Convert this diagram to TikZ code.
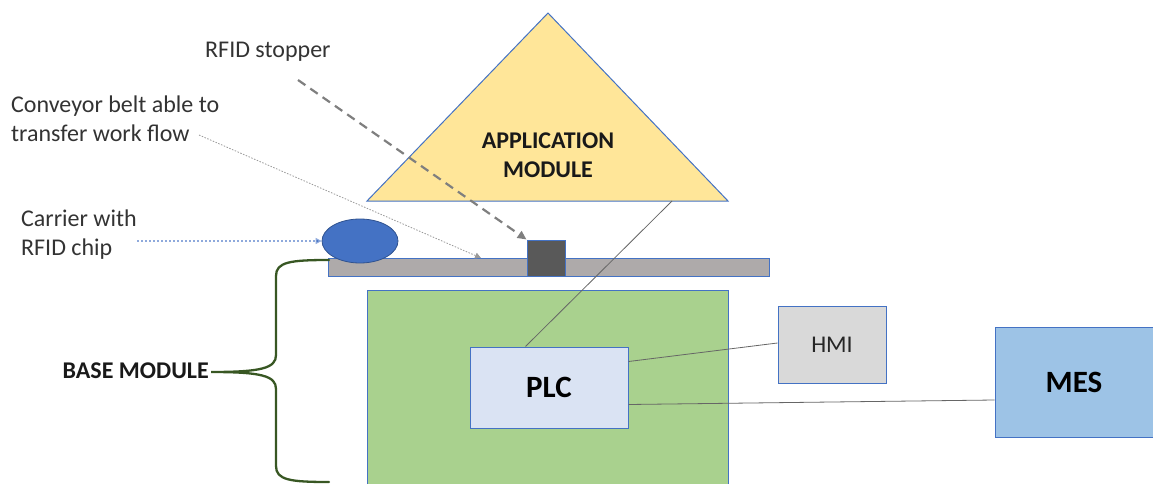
\documentclass[tikz,border=0pt]{standalone}
\usepackage{fontspec}
\setmainfont{Carlito}
\usetikzlibrary{shapes.geometric,arrows.meta}
\definecolor{edgeblue}{HTML}{4472C4}
\definecolor{appfill}{HTML}{FFE699}
\definecolor{beltfill}{HTML}{AEAAAA}
\definecolor{stopfill}{HTML}{595959}
\definecolor{carrierfill}{HTML}{4472C4}
\definecolor{carrieredge}{HTML}{2F528F}
\definecolor{basefill}{HTML}{A9D18E}
\definecolor{plcfill}{HTML}{DAE3F3}
\definecolor{hmifill}{HTML}{D9D9D9}
\definecolor{mesfill}{HTML}{9DC3E6}
\definecolor{bracegreen}{HTML}{385723}
\definecolor{labeltext}{HTML}{333333}
\definecolor{pointer}{HTML}{7F7F7F}
\definecolor{lightpointer}{HTML}{8FAADC}
\tikzset{
  box/.style={draw=edgeblue, line width=1pt, rectangle, inner sep=0pt, anchor=center},
  label text/.style={text=labeltext, font=\fontsize{24}{29}\selectfont, inner sep=0pt, anchor=base west},
  title text/.style={text=black!90, font=\bfseries\fontsize{24}{29}\selectfont, inner sep=0pt},
  wire/.style={draw=black!60, line width=0.8pt},
}
\begin{document}
\begin{tikzpicture}[x=1pt, y=-1pt]
\useasboundingbox (0,0) rectangle (1153,484);

% application module (triangle)
\coordinate (apex) at (548,13);
\coordinate (appL) at (367,201);
\coordinate (appR) at (728,201);
\coordinate (appLink) at (672,201);
\filldraw[fill=appfill, draw=edgeblue, line width=1pt, line join=miter] (apex) -- (appR) -- (appL) -- cycle;
\node[title text, anchor=base] (appText1) at (548,148) {APPLICATION};
\node[title text, anchor=base] (appText2) at (548,177) {MODULE};

% base module and PLC
\node[box, fill=basefill, minimum width=361pt, minimum height=196pt] (base) at (547.5,388) {};
\node[box, fill=plcfill, minimum width=158pt, minimum height=81pt, font=\bfseries\fontsize{31}{34}\selectfont] (plc) at (549,387.5) {PLC};

% conveyor belt, stopper and carrier
\node[box, fill=beltfill, minimum width=441pt, minimum height=18pt] (belt) at (548.5,267) {};
\node[box, fill=stopfill, minimum width=38pt, minimum height=36pt] (stopper) at (546,258) {};
\node[ellipse, fill=carrierfill, draw=carrieredge, line width=0.8pt, minimum width=76pt, minimum height=44pt, inner sep=0pt] (carrier) at (360,241) {};

% HMI and MES
\node[box, fill=hmifill, minimum width=108pt, minimum height=77pt, font=\fontsize{24}{26}\selectfont, text=black!85] (hmi) at (832,344.5) {HMI};
\node[box, fill=mesfill, minimum width=158pt, minimum height=110pt, font=\bfseries\fontsize{31}{34}\selectfont] (mes) at (1074,382) {MES};

% links
\draw[wire] (plc.north west) ++(56,0) coordinate (plcTop) -- (appLink);
\draw[wire] ([yshift=-15pt]plc.north east) -- ([yshift=1.5pt]hmi.west);
\draw[wire] ([yshift=-17pt]plc.east) -- ([yshift=-18pt]mes.west);

% labels
\node[label text] (stopLabel) at (205,58) {RFID stopper};
\node[label text] (beltLabel1) at (11,113) {Conveyor belt able to};
\node[label text] (beltLabel2) at (11,142) {transfer work flow};
\node[label text] (carrierLabel1) at (21,226) {Carrier with};
\node[label text] (carrierLabel2) at (21,255) {RFID chip};
\node[title text, anchor=base east] (baseLabel) at (209,378) {BASE MODULE};

% pointers
\coordinate (stopStart) at (298,80);
\coordinate (beltStart) at (199,135);
\coordinate (beltHit) at (481,258);
\coordinate (carrierStart) at (137,241);
\draw[draw=pointer, line width=2.2pt, dash pattern=on 9pt off 6pt, -{Triangle[length=9pt,width=8pt]}] (stopStart) -- (stopper.north west);
\draw[draw=pointer!80, line width=0.8pt, dash pattern=on 1.5pt off 1.5pt, -{Triangle[length=6pt,width=6pt]}] (beltStart) -- (beltHit);
\draw[draw=lightpointer, line width=1.1pt, dash pattern=on 2pt off 2pt, -{Triangle[length=6pt,width=6pt, fill=edgeblue]}] (carrierStart) -- (carrier.west);

% brace grouping the base module
\coordinate (braceTop) at (329,260);
\coordinate (braceTip) at (211,372);
\coordinate (braceBot) at (329,482);
\draw[draw=bracegreen, line width=2.3pt, line cap=round]
  (braceTop) .. controls (290,260) and (276,262) .. (276,276)
  -- (276,355) .. controls (276,368) and (262,372) .. (braceTip)
  .. controls (262,372) and (276,376) .. (276,389)
  -- (276,466) .. controls (276,480) and (290,482) .. (braceBot);
\end{tikzpicture}
\end{document}
